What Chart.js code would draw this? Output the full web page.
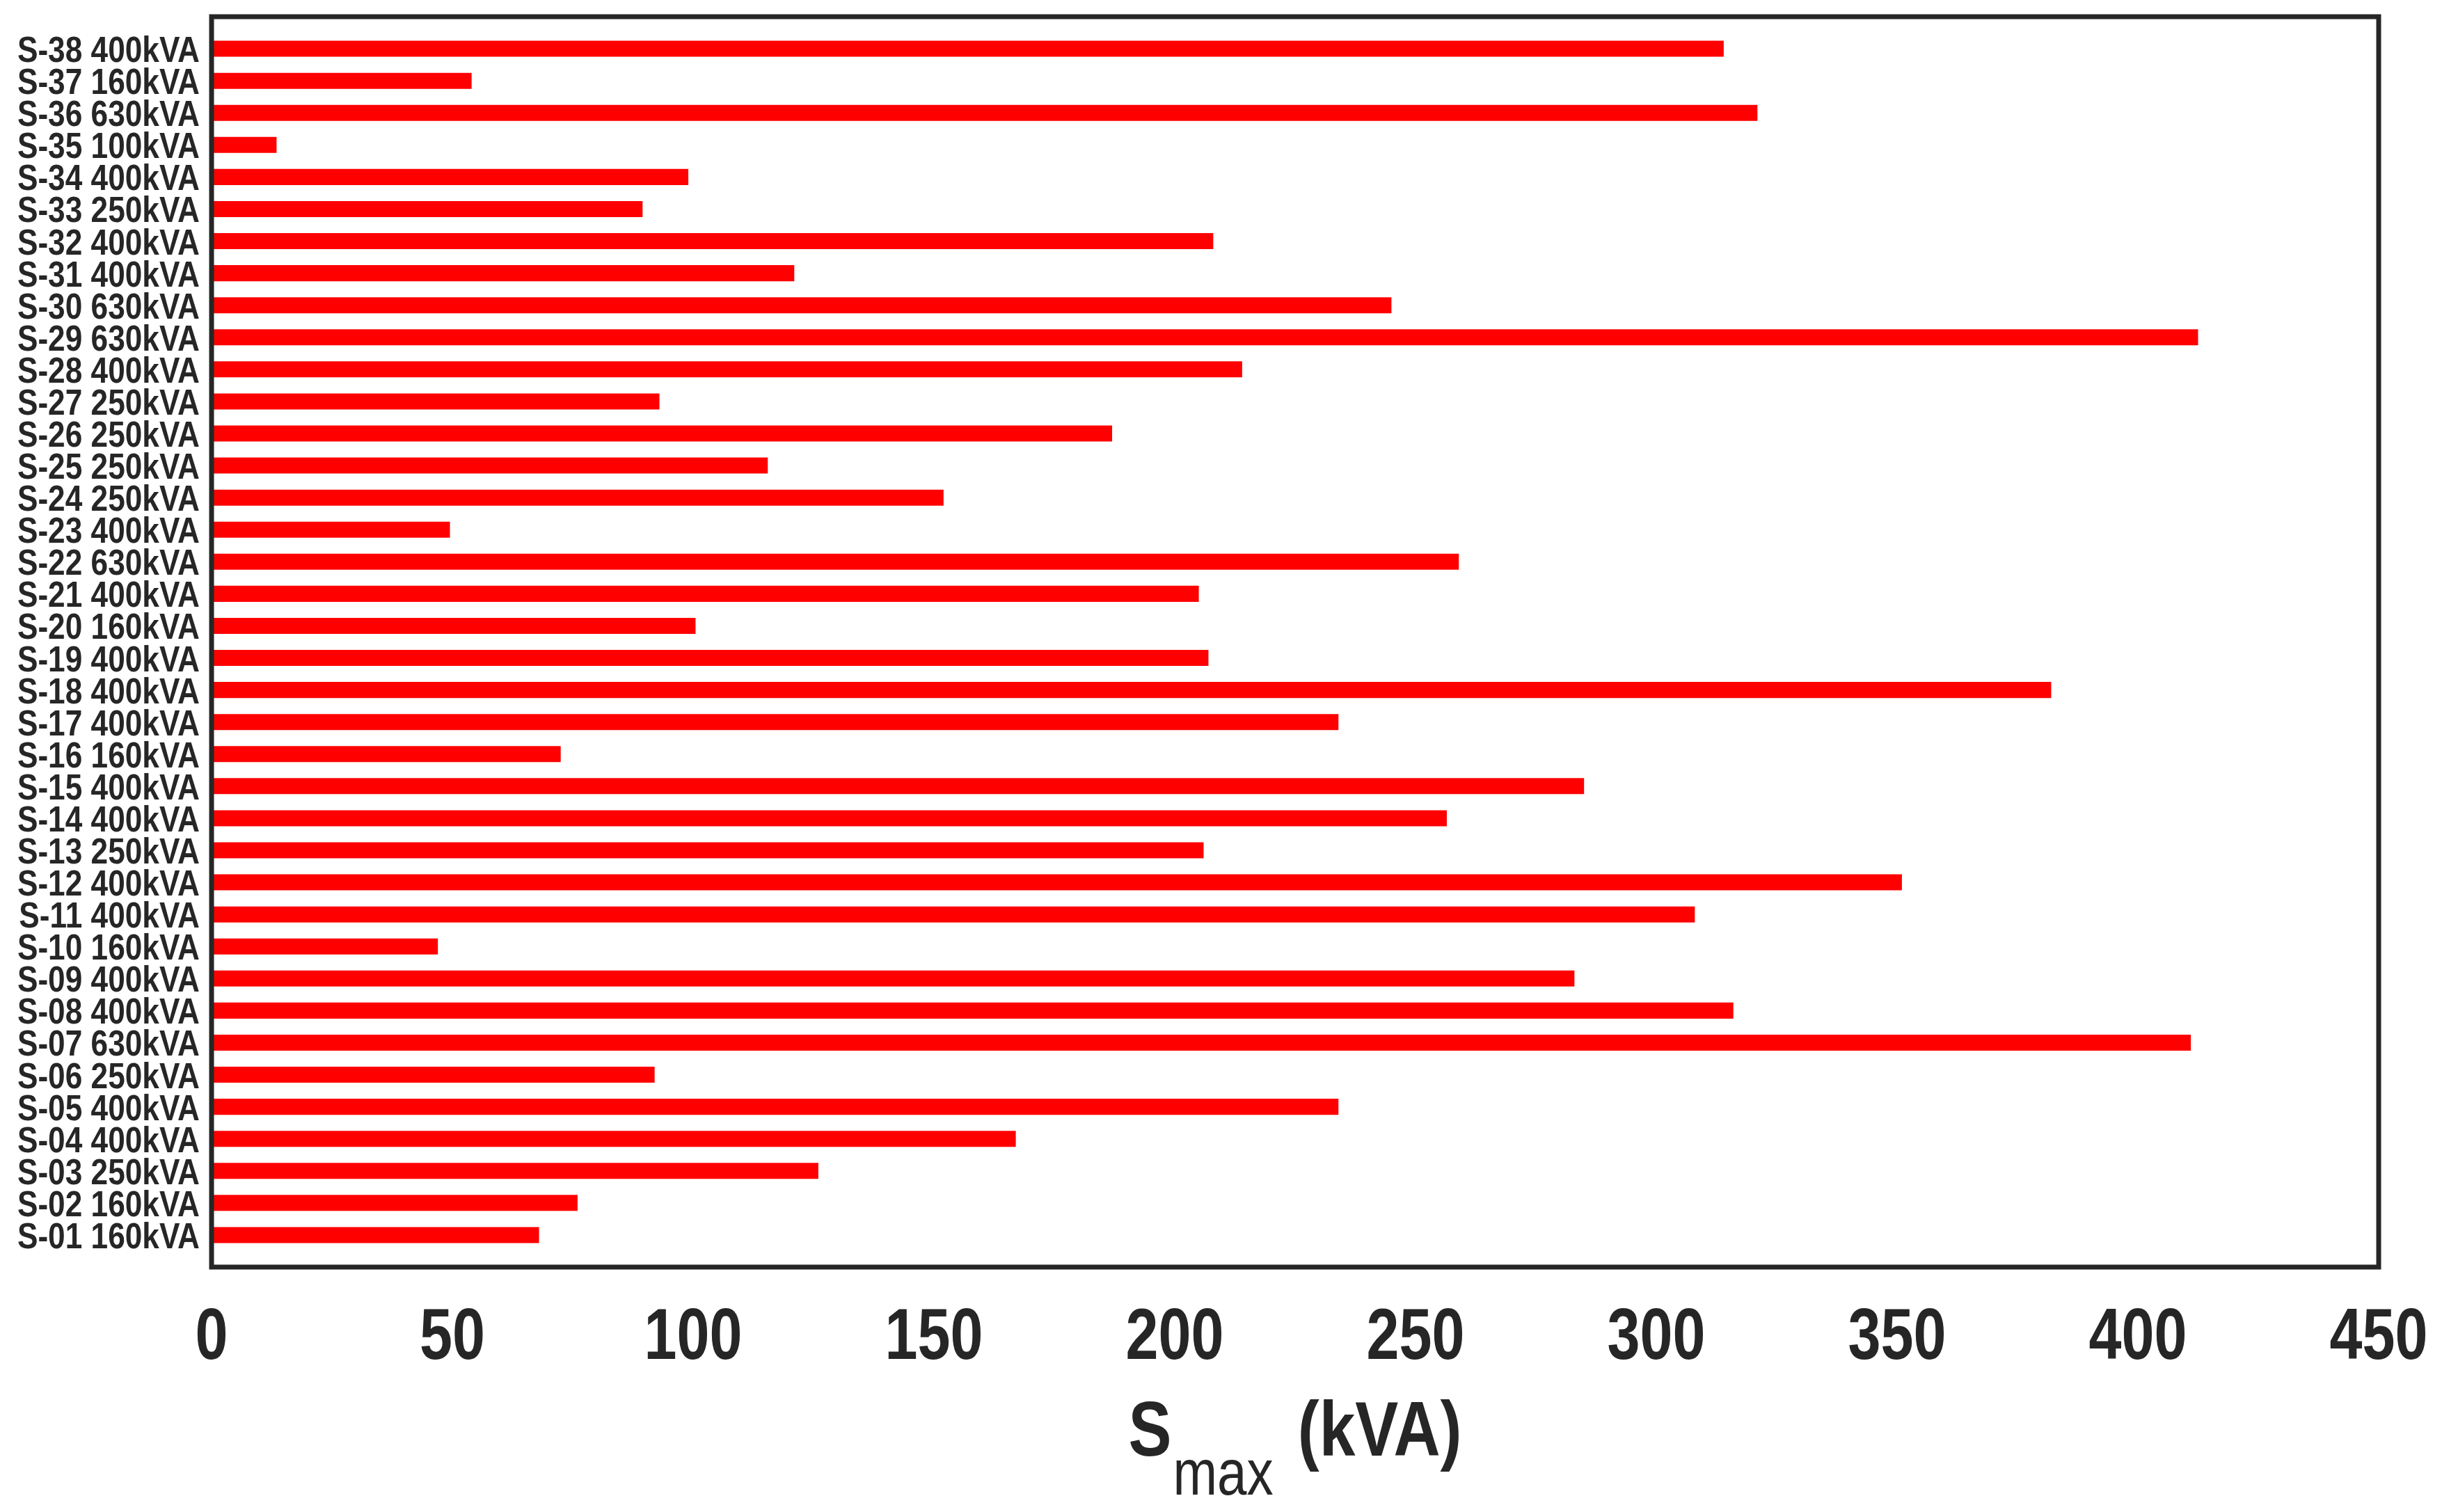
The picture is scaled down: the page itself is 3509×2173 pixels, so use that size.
<!DOCTYPE html>
<html>
<head>
<meta charset="utf-8">
<script src="https://cdn.jsdelivr.net/npm/chart.js@4/dist/chart.umd.min.js"></script>
<style>
    html, body { margin: 0; padding: 0; background: #ffffff; }
    #wrap { width: 3509px; height: 2173px; position: relative; }
</style>
</head>
<body>
<div id="wrap"><canvas id="smaxChart"></canvas></div>
<script>
const substations = ['S-01', 'S-02', 'S-03', 'S-04', 'S-05', 'S-06', 'S-07', 'S-08', 'S-09', 'S-10',
    'S-11', 'S-12', 'S-13', 'S-14', 'S-15', 'S-16', 'S-17', 'S-18', 'S-19', 'S-20',
    'S-21', 'S-22', 'S-23', 'S-24', 'S-25', 'S-26', 'S-27', 'S-28', 'S-29', 'S-30',
    'S-31', 'S-32', 'S-33', 'S-34', 'S-35', 'S-36', 'S-37', 'S-38'];
const ratingsKva = [160, 160, 250, 400, 400, 250, 630, 400, 400, 160,
    400, 400, 250, 400, 400, 160, 400, 400, 400, 160,
    400, 630, 400, 250, 250, 250, 250, 400, 630, 630,
    400, 400, 250, 400, 100, 630, 160, 400];
const smaxKva = [68, 76, 126, 167, 234, 92, 411, 316, 283, 47,
    308, 351, 206, 256.5, 285, 72.5, 234, 382, 207, 100.5,
    205, 259, 49.5, 152, 115.5, 187, 93, 214, 412.5, 245,
    121, 208, 89.5, 99, 13.5, 321, 54, 314];
const xTicks = [0, 50, 100, 150, 200, 250, 300, 350, 400, 450];

const ink = '#262626';
const family = "'Liberation Sans', Arial, sans-serif";

// blank slot at each end gives the one-row gap between the frame and the first/last bar
const labels = ['', ...substations.map((name, i) => `${name} ${ratingsKva[i]}kVA`), ''];
const values = [null, ...smaxKva, null];

// no narrow font installed, so squeeze the text horizontally like Arial Narrow
const drawNarrow = (ctx, text, x, y, align, squeeze) => {
    const width = ctx.measureText(text).width * squeeze;
    let left = x;
    if (align === 'right') left = x - width;
    if (align === 'center') left = x - width / 2;
    ctx.save();
    ctx.translate(left, y);
    ctx.scale(squeeze, 1);
    ctx.textAlign = 'left';
    ctx.fillText(text, 0, 0);
    ctx.restore();
    return width;
};

const framePlugin = {
    id: 'frame',
    afterDatasetsDraw(chart) {
        const { ctx, chartArea } = chart;
        ctx.save();
        ctx.strokeStyle = ink;
        ctx.lineWidth = 7;
        ctx.strokeRect(chartArea.left, chartArea.top, chartArea.right - chartArea.left, chartArea.bottom - chartArea.top);
        ctx.restore();
    }
};

const axisTextPlugin = {
    id: 'axisText',
    afterDraw(chart) {
        const { ctx, chartArea } = chart;
        const xScale = chart.scales.x;
        const yScale = chart.scales.y;

        ctx.save();
        ctx.fillStyle = ink;
        ctx.textBaseline = 'alphabetic';

        // category labels
        ctx.font = `bold 52px ${family}`;
        yScale.ticks.forEach((tick, index) => {
            const text = labels[tick.value];
            if (!text) return;
            drawNarrow(ctx, text, chartArea.left - 17, yScale.getPixelForTick(index) + 19, 'right', 0.85);
        });

        // value ticks
        ctx.font = `bold 103px ${family}`;
        xTicks.forEach((value) => {
            drawNarrow(ctx, String(value), xScale.getPixelForValue(value), chartArea.bottom + 132, 'center', 0.82);
        });

        // axis title: S with subscript max, then unit
        const centre = (xScale.left + xScale.right) / 2;
        const baseline = chartArea.bottom + 271;
        const squeeze = 0.83;
        const bigFont = `bold 112px ${family}`;
        const subFont = `92px ${family}`;
        ctx.font = bigFont;
        const sWidth = ctx.measureText('S').width * squeeze;
        const unitWidth = ctx.measureText('(kVA)').width * squeeze;
        ctx.font = subFont;
        const subWidth = ctx.measureText('max').width * squeeze;
        const total = sWidth + 2 + subWidth + 35 + unitWidth;
        let x = centre - total / 2;

        ctx.font = bigFont;
        x += drawNarrow(ctx, 'S', x, baseline, 'left', squeeze) + 2;
        ctx.font = subFont;
        x += drawNarrow(ctx, 'max', x, baseline + 56, 'left', squeeze) + 35;
        ctx.font = bigFont;
        drawNarrow(ctx, '(kVA)', x, baseline, 'left', squeeze);
        ctx.restore();
    }
};

new Chart(document.getElementById('smaxChart'), {
    type: 'bar',
    data: {
        labels: labels,
        datasets: [{
            label: 'Smax',
            data: values,
            backgroundColor: '#ff0000',
            borderWidth: 0,
            categoryPercentage: 1,
            barPercentage: 0.5
        }]
    },
    options: {
        indexAxis: 'y',
        responsive: true,
        maintainAspectRatio: false,
        devicePixelRatio: 1,
        animation: false,
        layout: {
            padding: { top: 24, right: 91, left: 0, bottom: 0 }
        },
        plugins: {
            legend: { display: false },
            tooltip: { enabled: false }
        },
        scales: {
            x: {
                type: 'linear',
                min: 0,
                max: 450,
                afterBuildTicks: (scale) => {
                    scale.ticks = xTicks.map((value) => ({ value }));
                },
                afterFit: (scale) => {
                    scale.height = 352;
                },
                grid: { display: false, drawTicks: false },
                border: { display: false },
                ticks: { display: false }
            },
            y: {
                reverse: true,
                offset: false,
                afterFit: (scale) => {
                    scale.width = 304;
                },
                grid: { display: false, drawTicks: false },
                border: { display: false },
                ticks: { display: false, autoSkip: false }
            }
        }
    },
    plugins: [framePlugin, axisTextPlugin]
});
</script>
</body>
</html>
